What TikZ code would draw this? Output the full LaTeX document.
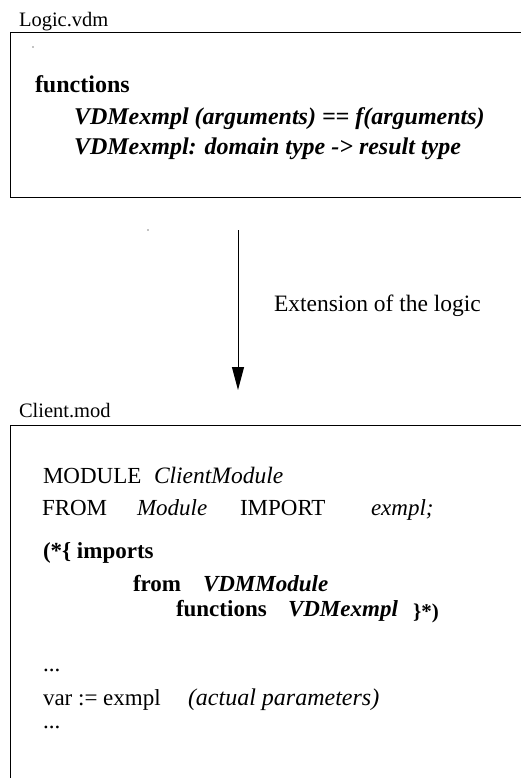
\documentclass[tikz,border=0pt]{standalone}
\usepackage{fontspec}
\setmainfont{Liberation Serif}
\usetikzlibrary{arrows.meta}
\tikzset{
  txt/.style={anchor=base west, inner sep=0pt, outer sep=0pt},
  lbl/.style={txt, font=\fontsize{20.5}{22}\selectfont},
  big/.style={txt, font=\fontsize{23}{25}\selectfont},
  frame/.style={draw, line width=1.3pt, anchor=north west, inner sep=0pt},
  flow/.style={line width=1pt, -{Triangle[length=23pt,width=12pt]}},
  speck/.style={fill, circle, inner sep=0pt, minimum size=1.2pt}
}
\begin{document}
\begin{tikzpicture}[x=1pt,y=-1pt]
\useasboundingbox (0,0) rectangle (520,778);
% top box
\node[lbl] (logiclbl) at (19,27) {Logic.vdm};
\node[frame, minimum width=540pt, minimum height=165pt] (logic) at (10,32) {};
\node[speck] (d1) at (33,47) {};
\node[big, font=\fontsize{24}{26}\selectfont\bfseries] (fun) at (35,93) {functions};
\node[big, font=\fontsize{24}{26}\selectfont\bfseries\itshape] (l1) at (74,125) {VDMexmpl (arguments) == f(arguments)};
\node[big, font=\fontsize{24}{26}\selectfont\bfseries\itshape] (l2) at (74,155) {VDMexmpl: domain type -> result type};
% arrow
\node[speck] (d2) at (148,230) {};
\coordinate (s) at (238,230);
\coordinate (e) at (238,390);
\draw[flow] (s) -- (e);
\node[txt, font=\fontsize{23.5}{25}\selectfont] (ext) at (274,311) {Extension of the logic};
% bottom box
\node[lbl] (clientlbl) at (19,417) {Client.mod};
\node[frame, minimum width=540pt, minimum height=380pt] (client) at (10,425) {};
\node[big] (m1) at (43,483) {MODULE};
\node[big, font=\fontsize{23.5}{25}\selectfont\itshape] (m2) at (154,483) {ClientModule};
\node[big] (f1) at (42,515) {FROM};
\node[big, font=\fontsize{23}{25}\selectfont\itshape] (f2) at (137,515) {Module};
\node[big] (f3) at (240,515) {IMPORT};
\node[big, font=\fontsize{23}{25}\selectfont\itshape] (f4) at (371,515) {exmpl;};
\node[big, font=\fontsize{23}{25}\selectfont\bfseries] (i1) at (43,558) {(*\{ imports};
\node[big, font=\fontsize{23}{25}\selectfont\bfseries] (i2) at (133,591) {from};
\node[big, font=\fontsize{23}{25}\selectfont\bfseries\itshape] (i3) at (203,591) {VDMModule};
\node[big, font=\fontsize{23}{25}\selectfont\bfseries] (i4) at (176,616) {functions};
\node[big, font=\fontsize{23}{25}\selectfont\bfseries\itshape] (i5) at (288,616) {VDMexmpl};
\node[big, font=\fontsize{21}{23}\selectfont\bfseries] (i6) at (413,618) {\}*)};
\node[big] (dots1) at (43,671) {...};
\node[big] (v1) at (43,705) {var := exmpl};
\node[big, font=\fontsize{24}{26}\selectfont\itshape] (v2) at (188,705) {(actual parameters)};
\node[big] (dots2) at (43,728) {...};
\end{tikzpicture}
\end{document}
